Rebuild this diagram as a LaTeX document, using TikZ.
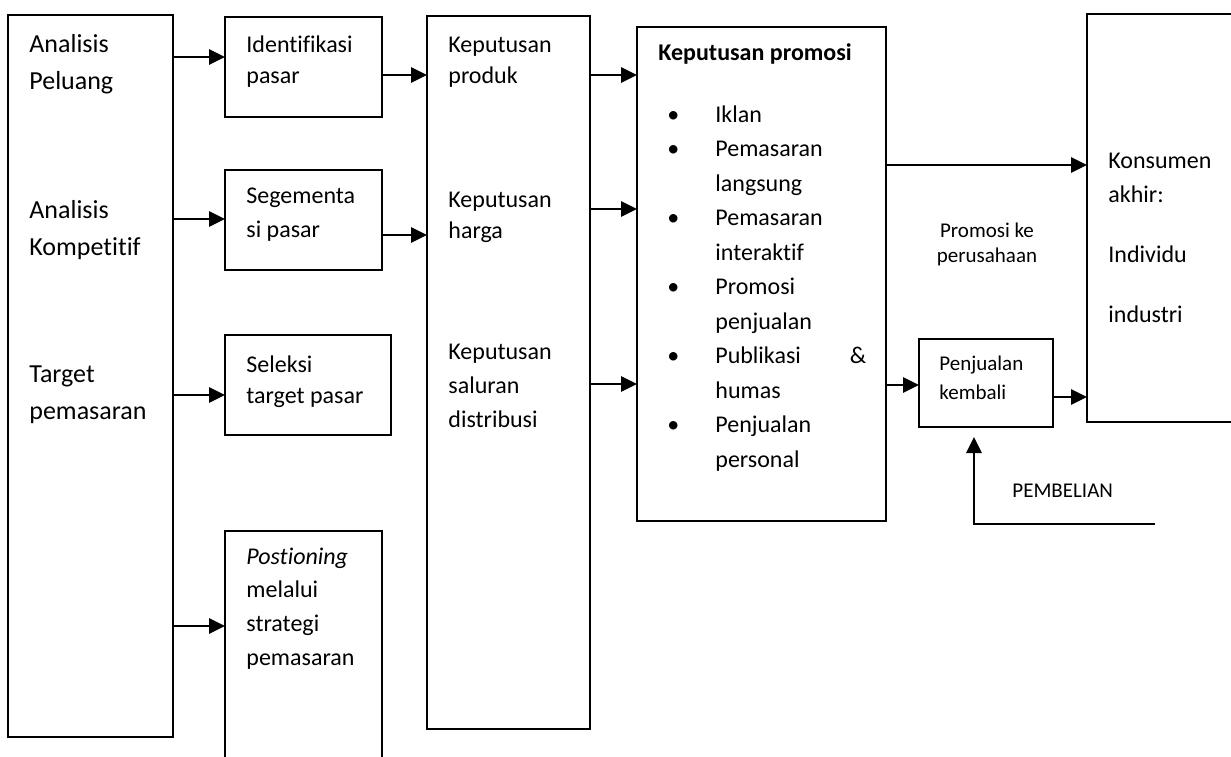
\documentclass[tikz,border=0pt]{standalone}
\usepackage{fontspec}
\setmainfont{Carlito}[Ligatures=NoCommon]
\usetikzlibrary{calc,arrows.meta}
\newcommand{\Unit}{0.5pt}
\newcommand{\Frame}{1.1pt}
\newcommand{\Shaft}{1.4pt}
\definecolor{ink}{HTML}{000000}

\tikzset{
  box/.style={draw=ink, line width=\Frame, anchor=north west, inner sep=0pt, outer sep=0pt},
  txt/.style={anchor=base west, inner sep=0pt, align=left, text=ink, font=\fontsize{12}{16}\selectfont},
  big/.style={txt, font=\fontsize{13}{18.5}\selectfont},
  small/.style={txt, font=\fontsize{10.5}{12.5}\selectfont},
  flow/.style={draw=ink, line width=\Shaft, -{Triangle[length=8pt,width=7.5pt]}},
}

\begin{document}
\begin{tikzpicture}[x=\Unit,y=-\Unit, line join=miter]
  \useasboundingbox (0,0) rectangle (1231,756);

  % ---- boxes --------------------------------------------------------------
  \node[box, minimum width=165*\Unit, minimum height=722*\Unit] (ana) at (8,15) {};
  \node[box, minimum width=157*\Unit, minimum height=100*\Unit] (idf) at (225,17) {};
  \node[box, minimum width=157*\Unit, minimum height=100*\Unit] (seg) at (225,170) {};
  \node[box, minimum width=166*\Unit, minimum height=100*\Unit] (sel) at (225,335) {};
  \node[box, minimum width=157*\Unit, minimum height=240*\Unit] (pos) at (225,531) {};
  \node[box, minimum width=163*\Unit, minimum height=713*\Unit] (kep) at (427,16) {};
  \node[box, minimum width=249*\Unit, minimum height=494*\Unit] (pro) at (637,27) {};
  \node[box, minimum width=134*\Unit, minimum height=88*\Unit] (jual) at (919,339) {};
  % the consumer box runs off the right edge of the page
  \node[box, minimum width=160*\Unit, minimum height=408*\Unit] (kon) at (1087,14) {};

  % ---- analysis column (placed at the baseline of the last line) ----------
  \node[big] (peluang) at (29,89) {Analisis\\Peluang};
  \node[big] (kompetitif) at (29,255) {Analisis\\Kompetitif};
  \node[big] (target) at (29,419) {Target\\pemasaran};

  % ---- market steps -------------------------------------------------------
  \node[txt, font=\fontsize{12}{15.5}\selectfont] (idftext) at (246,83) {Identifikasi\\pasar};
  \node[txt, font=\fontsize{12}{17}\selectfont] (segtext) at (246,237) {Segementa\\si pasar};
  \node[txt, font=\fontsize{12}{15.5}\selectfont] (seltext) at (246,403) {Seleksi\\target pasar};
  \node[txt, font=\fontsize{12}{16.8}\selectfont] (postext) at (246,665)
    {\textit{Postioning}\\melalui\\strategi\\pemasaran};

  % ---- decisions ----------------------------------------------------------
  \node[txt, font=\fontsize{12}{15.5}\selectfont] (produk) at (448,83) {Keputusan\\produk};
  \node[txt, font=\fontsize{12}{15.5}\selectfont] (harga) at (448,238) {Keputusan\\harga};
  \node[txt, font=\fontsize{12}{16.8}\selectfont] (saluran) at (448,427)
    {Keputusan\\saluran\\distribusi};

  % ---- promotion mix ------------------------------------------------------
  \node[txt, font=\bfseries\fontsize{12}{16}\selectfont] (protitle) at (658,60) {Keputusan promosi};
  \node[txt, font=\fontsize{12}{17.25}\selectfont] (mix) at (667,122) {%
    \begin{tabular}[t]{@{}p{24pt}@{}l@{}}
      \textbullet & Iklan\\
      \textbullet & Pemasaran\\
                  & langsung\\
      \textbullet & Pemasaran\\
                  & interaktif\\
      \textbullet & Promosi\\
                  & penjualan\\
      \textbullet & \makebox[75.5pt][s]{Publikasi\hfill\&}\\
                  & humas\\
      \textbullet & Penjualan\\
                  & personal
    \end{tabular}};

  % ---- consumers and resale -----------------------------------------------
  \node[txt, font=\fontsize{12}{17}\selectfont] (kontext) at (1108,322)
    {Konsumen\\akhir:\\[13pt]Individu\\[13pt]industri};
  \node[small, anchor=base, align=center] (perusahaan) at (987,262) {Promosi ke\\perusahaan};
  \node[small, font=\fontsize{10.5}{14.5}\selectfont] (jualtext) at (939,399) {Penjualan\\kembali};
  \node[small] (beli) at (1012,497) {PEMBELIAN};

  % ---- connectors ---------------------------------------------------------
  \foreach \tgt/\y in {idf/57, seg/219, sel/395, pos/626}
    \draw[flow] (ana.east |- 0,\y) -- (\tgt.west |- 0,\y);
  \foreach \src/\y in {idf/75, seg/235}
    \draw[flow] (\src.east |- 0,\y) -- (kep.west |- 0,\y);
  \foreach \y in {75, 209, 384}
    \draw[flow] (kep.east |- 0,\y) -- (pro.west |- 0,\y);
  \draw[flow] (pro.east |- 0,165) -- (kon.west |- 0,165);
  \draw[flow] (pro.east |- 0,385) -- (jual.west |- 0,385);
  \draw[flow] (jual.east |- 0,397) -- (kon.west |- 0,397);
  \coordinate (belistart) at (1155,524);
  \draw[flow] (belistart) -| ($(jual.south)+(-12,10)$);

\end{tikzpicture}
\end{document}
